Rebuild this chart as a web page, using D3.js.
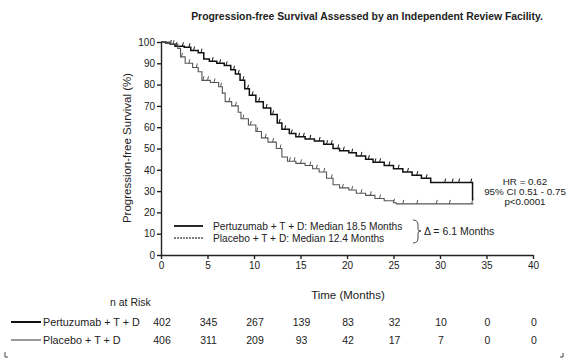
<!DOCTYPE html>
<meta charset="utf-8">
<style>
 body { margin: 0; background: #fff; }
 svg text { font-family: "Liberation Sans", Arial, sans-serif; fill: #222; }
 .axis path, .axis line { stroke: #222; stroke-width: 1.4px; }
 .axis text { font-size: 10px; }
 .km { fill: none; }
</style>
<svg class="kmchart"></svg>
<script src="https://cdn.jsdelivr.net/npm/d3@7"></script>
<script>
 var width = 574, height = 364;

 // step points: months, % progression-free
 var pertTime = [0, 0.5, 1, 1.5, 2.5, 3.2, 4, 4.6, 5.2, 6, 6.8, 7.5, 8, 8.5, 9, 9.5, 10.2, 11, 11.8, 12.5, 13, 13.8, 14.5, 15.5, 16.5, 17.5, 18.5, 19.2, 20.2, 21, 22, 22.8, 24, 25, 26, 27, 28, 29, 33.5, 33.6];
 var pertSurv = [100, 99.5, 99, 98, 97.5, 96, 95, 92, 91, 90, 89, 87, 85, 82, 78, 75, 72, 69, 66, 62, 59, 57, 55.5, 54.5, 53.5, 52, 50, 49, 48, 46.5, 45, 43.5, 42, 40.5, 39, 37.5, 36, 34, 26, 26];
 var plaTime = [0, 1, 1.8, 2.1, 2.6, 3.4, 4, 4.4, 5.3, 6.2, 6.6, 6.9, 7.6, 8.3, 8.6, 9.4, 10.2, 10.8, 11.5, 12.4, 13, 13.6, 14.5, 15.5, 16.3, 17, 17.8, 18.5, 19.2, 20.2, 21, 22, 23, 24, 25, 25.3, 33.6];
 var plaSurv = [100, 99, 97, 93, 90, 88, 86, 82, 81, 79, 76, 72, 70, 67, 64, 61, 58, 55, 53, 50, 46, 44, 43, 42, 40.5, 39, 36, 33, 31.5, 30.5, 29, 28, 26.5, 25.5, 24.5, 24, 24];
 var pertCensor = [1, 1.6, 2.3, 3, 3.5, 4.3, 5.5, 6.3, 7, 7.8, 8.3, 8.8, 9.3, 9.8, 10.5, 11.3, 12, 12.7, 13.3, 14, 14.8, 15.3, 16, 17, 17.8, 18.3, 19, 19.6, 20.5, 21.5, 22.3, 23, 23.5, 24.5, 25.5, 26.5, 27.5, 28.5, 30.5, 31.3, 32, 33.3];
 var plaCensor = [1.3, 2.2, 3, 3.8, 4.5, 5, 5.7, 6.4, 7.3, 8, 8.8, 9.6, 10.3, 11.2, 12, 12.8, 13.8, 14.3, 15, 16, 16.7, 17.5, 18.3, 19.5, 20.5, 21.5, 22.5, 23.5, 25, 26, 27.5, 29.6, 31, 33.4];

 var xTicks = [0, 5, 10, 15, 20, 25, 30, 35, 40];
 var yTicks = [0, 10, 20, 30, 40, 50, 60, 70, 80, 90, 100];
 var armNames = ["Pertuzumab + T + D", "Placebo + T + D"];
 var armLegend = ["Pertuzumab + T + D: Median 18.5 Months", "Placebo + T + D: Median 12.4 Months"];
 var atRisk = [[402, 345, 267, 139, 83, 32, 10, 0, 0],
               [406, 311, 209, 93, 42, 17, 7, 0, 0]];
 var armColor = ["#111", "#555"];
 var armWidth = [1.5, 1.1];

 var svg = d3.select(".kmchart").attr("width", width).attr("height", height);

 var x = d3.scaleLinear().domain([0, 40]).range([161, 533]);
 var y = d3.scaleLinear().domain([0, 100]).range([255, 42]);

 svg.append("text").attr("x", 367).attr("y", 20).attr("text-anchor", "middle")
    .style("font-size", "10.4px").style("font-weight", "bold")
    .text("Progression-free Survival Assessed by an Independent Review Facility.");

 svg.append("g").attr("class", "axis").attr("transform", "translate(0,255)")
    .call(d3.axisBottom(x).tickValues(xTicks).tickSize(4).tickSizeOuter(0).tickPadding(3));
 svg.append("g").attr("class", "axis").attr("transform", "translate(161,0)")
    .call(d3.axisLeft(y).tickValues(yTicks).tickSize(4).tickSizeOuter(0).tickPadding(2));

 svg.append("text").attr("transform", "translate(131,148) rotate(-90)")
    .attr("text-anchor", "middle").style("font-size", "11.5px")
    .text("Progression-free Survival (%)");
 svg.append("text").attr("x", 348).attr("y", 299).attr("text-anchor", "middle")
    .style("font-size", "11.5px").text("Time (Months)");

 var line = d3.line().curve(d3.curveStepAfter)
     .x(function(d) { return x(d[0]); }).y(function(d) { return y(d[1]); });

 function stepAt(times, surv, t) {
     var i = d3.bisectRight(times, t) - 1;
     return surv[Math.max(0, i)];
 }

 var arms = [
     {times: pertTime, surv: pertSurv, censor: pertCensor},
     {times: plaTime, surv: plaSurv, censor: plaCensor}
 ];

 arms.forEach(function(a, k) {
     svg.append("path").attr("class", "km")
        .attr("d", line(d3.zip(a.times, a.surv)))
        .attr("stroke", armColor[k]).attr("stroke-width", armWidth[k]);

     svg.selectAll(".cens" + k).data(a.censor).enter()
        .append("line").attr("class", "cens" + k)
        .attr("x1", function(d) { return x(d); })
        .attr("x2", function(d) { return x(d) + 1; })
        .attr("y1", function(d) { return y(stepAt(a.times, a.surv, d)); })
        .attr("y2", function(d) { return y(stepAt(a.times, a.surv, d)) - 4; })
        .attr("stroke", armColor[k]).attr("stroke-width", 1);
 });

 // legend
 armLegend.forEach(function(t, k) {
     var ly = 226 + k * 12;
     svg.append("line").attr("x1", 174).attr("x2", 203).attr("y1", ly).attr("y2", ly)
        .attr("stroke", armColor[k]).attr("stroke-width", k ? 1.6 : 1.8)
        .attr("stroke-dasharray", k ? "2,1" : null);
     svg.append("text").attr("x", 213).attr("y", ly + 3.5).style("font-size", "10.2px").text(t);
 });
 svg.append("path").attr("d", "M413,220 Q418,220 418,225 L418,229 Q418,231 421,231 Q418,231 418,233 L418,238 Q418,243 413,243")
    .attr("fill", "none").attr("stroke", "#333").attr("stroke-width", 0.9);
 svg.append("text").attr("x", 424).attr("y", 235).style("font-size", "10.5px").text("Δ = 6.1 Months");

 ["HR = 0.62", "95% CI 0.51 - 0.75", "p<0.0001"].forEach(function(t, i) {
     svg.append("text").attr("x", 525).attr("y", 185 + i * 10).attr("text-anchor", "middle")
        .style("font-size", "9.8px").text(t);
 });

 // number at risk table
 svg.append("text").attr("x", 110).attr("y", 306).style("font-size", "10.5px").text("n at Risk");
 atRisk.forEach(function(row, k) {
     var ry = 326 + k * 18;
     svg.append("line").attr("x1", 11).attr("x2", 41).attr("y1", ry - 4).attr("y2", ry - 4)
        .attr("stroke", armColor[k]).attr("stroke-width", k ? 1.2 : 2);
     svg.append("text").attr("x", 43).attr("y", ry).style("font-size", "10.8px").text(armNames[k]);
     svg.selectAll(".risk" + k).data(row).enter().append("text").attr("class", "risk" + k)
        .attr("x", function(d, i) { return x(xTicks[i]) + 1; }).attr("y", ry)
        .attr("text-anchor", "middle").style("font-size", "10.5px")
        .text(function(d) { return d; });
 });

 svg.append("path").attr("d", "M5,352 L5,357 L8,357").attr("fill", "none").attr("stroke", "#444");
 svg.append("path").attr("d", "M560,357 L563,357 L563,353").attr("fill", "none").attr("stroke", "#444");
</script>
